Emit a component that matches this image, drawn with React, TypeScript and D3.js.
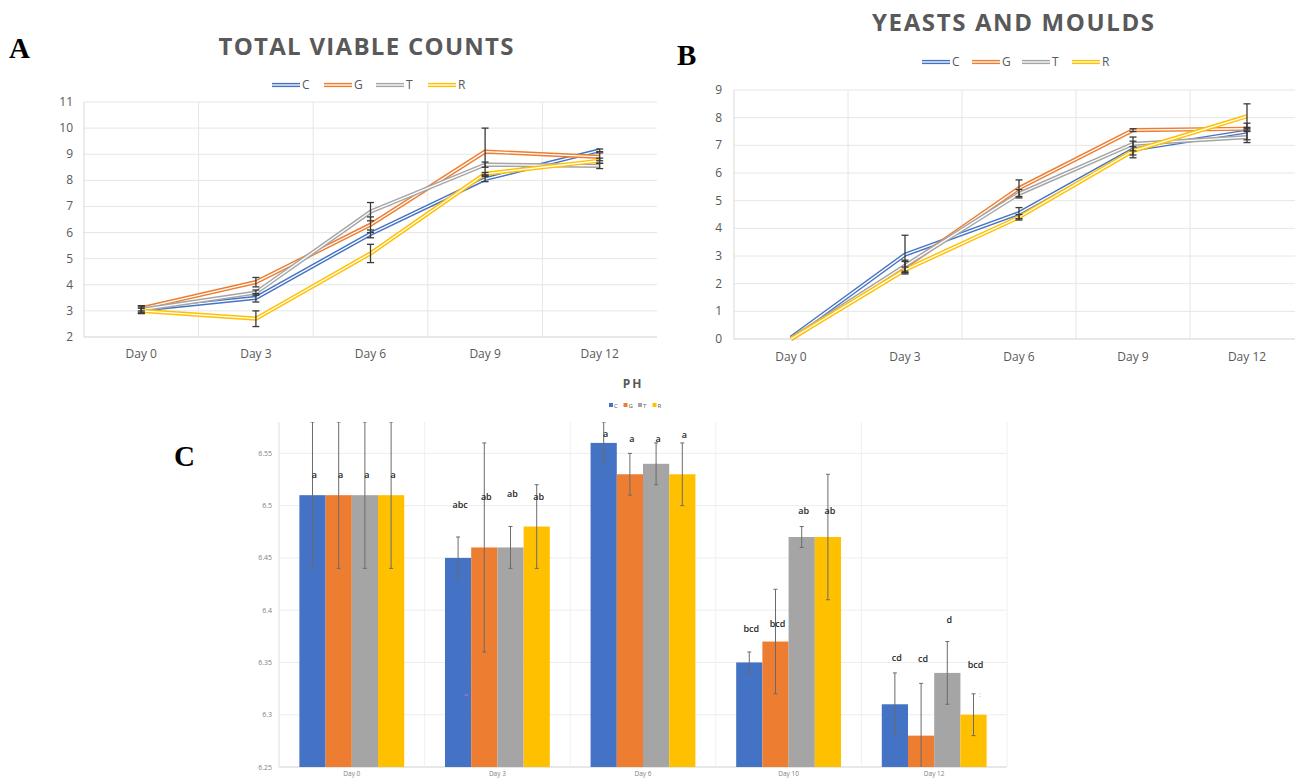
import React from "react";
import * as d3 from "d3";

// ---------- data ----------
const days = ["Day 0", "Day 3", "Day 6", "Day 9", "Day 12"];
const seriesNames = ["C", "G", "T", "R"];

// Total viable counts
const tvcC = [3.05, 3.5, 5.95, 8.05, 9.15];
const tvcG = [3.1, 4.1, 6.3, 9.1, 8.9];
const tvcT = [3.05, 3.7, 6.8, 8.6, 8.55];
const tvcR = [3.0, 2.7, 5.2, 8.25, 8.75];
const tvcErrC = [0.15, 0.16, 0.15, 0.1, 0.05];
const tvcErrG = [0.1, 0.18, 0.3, 0.9, 0.15];
const tvcErrT = [0.1, 0.1, 0.35, 0.1, 0.1];
const tvcErrR = [0.1, 0.3, 0.35, 0.05, 0.1];
const tvcTicks = [2, 3, 4, 5, 6, 7, 8, 9, 10, 11];

// Yeasts and moulds
const ymC = [0.05, 3.05, 4.55, 6.85, 7.5];
const ymG = [0, 2.6, 5.45, 7.55, 7.6];
const ymT = [0, 2.65, 5.25, 7.05, 7.3];
const ymR = [0, 2.5, 4.4, 6.8, 8.05];
const ymErrC = [0, 0.7, 0.2, 0.3, 0.3];
const ymErrG = [0, 0.2, 0.3, 0.05, 0.05];
const ymErrT = [0, 0.2, 0.15, 0.25, 0.2];
const ymErrR = [0, 0.1, 0.1, 0.15, 0.45];
const ymTicks = [0, 1, 2, 3, 4, 5, 6, 7, 8, 9];

// pH
const phDays = ["Day 0", "Day 3", "Day 6", "Day 10", "Day 12"];
const phC = [6.51, 6.45, 6.56, 6.35, 6.31];
const phG = [6.51, 6.46, 6.53, 6.37, 6.28];
const phT = [6.51, 6.46, 6.54, 6.47, 6.34];
const phR = [6.51, 6.48, 6.53, 6.47, 6.3];
const phErrC = [0.07, 0.02, 0.02, 0.01, 0.03];
const phErrG = [0.07, 0.1, 0.02, 0.05, 0.05];
const phErrT = [0.07, 0.02, 0.02, 0.01, 0.03];
const phErrR = [0.07, 0.04, 0.03, 0.06, 0.02];
const phLetC = ["a", "abc", "a", "bcd", "cd"];
const phLetG = ["a", "ab", "a", "bcd", "cd"];
const phLetT = ["a", "ab", "a", "ab", "d"];
const phLetR = ["a", "ab", "a", "ab", "bcd"];
const phLetAtC = [6.529, 6.501, 6.569, 6.382, 6.354];
const phLetAtG = [6.529, 6.508, 6.564, 6.387, 6.353];
const phLetAtT = [6.529, 6.511, 6.564, 6.495, 6.391];
const phLetAtR = [6.529, 6.508, 6.568, 6.495, 6.348];
const phTicks = [6.25, 6.3, 6.35, 6.4, 6.45, 6.5, 6.55];
const phTickLabels = ["6.25", "6.3", "6.35", "6.4", "6.45", "6.5", "6.55"];

// ---------- style ----------
const COLORS = ["#4472C4", "#ED7D31", "#A5A5A5", "#FFC000"];
const FONT = "'Open Sans', 'Liberation Sans', sans-serif";
const TXT = "#595959";
const GRID = "#e6e6e6";

type LineProps = {
  title: string; titleX: number; titleY: number; titleW: number;
  letter: string; letterX: number; letterY: number;
  left: number; right: number; top: number; bottom: number;
  domain: [number, number]; ticks: number[];
  values: number[][]; errors: number[][];
  legendX: number; legendStep: number; legendY: number; yLabelX: number; xLabelY: number;
};

function LinePanel(p: LineProps) {
  const x = d3.scaleBand<string>().domain(days).range([p.left, p.right]);
  const y = d3.scaleLinear().domain(p.domain).range([p.bottom, p.top]);
  const cx = (i: number) => (x(days[i]) as number) + x.bandwidth() / 2;
  const line = d3.line<number>().x((_, i) => cx(i)).y((d) => y(d));
  return (
    <g>
      <text x={p.titleX} y={p.titleY} textAnchor="middle" fontFamily={FONT} fontSize={24} fontWeight={700}
        fill={TXT} textLength={p.titleW} lengthAdjust="spacing">{p.title}</text>
      <text x={p.letterX} y={p.letterY} fontFamily="'Liberation Serif', serif" fontSize={29} fontWeight={700} fill="#000">{p.letter}</text>
      {p.ticks.map((t) => (
        <line key={"h" + t} x1={p.left} x2={p.right} y1={y(t)} y2={y(t)} stroke={t === p.domain[0] ? "#d0d0d0" : GRID} strokeWidth={1} />
      ))}
      {days.map((d, i) => i > 0 ? (
        <line key={"v" + d} x1={x(d)} x2={x(d)} y1={p.top} y2={p.bottom} stroke={GRID} strokeWidth={1} />
      ) : null)}
      <line x1={p.left} x2={p.left} y1={p.top} y2={p.bottom} stroke="#d9d9d9" strokeWidth={1} />
      {p.ticks.map((t) => (
        <text key={"yl" + t} x={p.yLabelX} y={y(t) + 4} textAnchor="end" fontFamily={FONT} fontSize={12} fill={TXT}>{t}</text>
      ))}
      {days.map((d, i) => (
        <text key={"xl" + d} x={cx(i)} y={p.xLabelY} textAnchor="middle" fontFamily={FONT} fontSize={12} fill={TXT}>{d}</text>
      ))}
      {p.values.map((vals, s) => (
        <g key={"s" + s}>
          <path d={line(vals) || ""} fill="none" stroke={COLORS[s]} strokeWidth={4.2} strokeLinejoin="round" />
          <path d={line(vals) || ""} fill="none" stroke="#fff" strokeWidth={1.3} strokeLinejoin="round" />
        </g>
      ))}
      {p.values.map((vals, s) => vals.map((v, i) => {
        const e = p.errors[s][i];
        if (!e) return null;
        const x0 = cx(i);
        return (
          <g key={"e" + s + "-" + i} stroke="#3a3a3a" strokeWidth={1.3}>
            <line x1={x0} x2={x0} y1={y(v + e)} y2={y(v - e)} />
            <line x1={x0 - 3.5} x2={x0 + 3.5} y1={y(v + e)} y2={y(v + e)} />
            <line x1={x0 - 3.5} x2={x0 + 3.5} y1={y(v - e)} y2={y(v - e)} />
          </g>
        );
      }))}
      {seriesNames.map((n, s) => {
        const lx = p.legendX + s * p.legendStep;
        return (
          <g key={"lg" + n}>
            <line x1={lx} x2={lx + 28} y1={p.legendY} y2={p.legendY} stroke={COLORS[s]} strokeWidth={4.2} />
            <line x1={lx} x2={lx + 28} y1={p.legendY} y2={p.legendY} stroke="#fff" strokeWidth={1.3} />
            <text x={lx + 30} y={p.legendY + 4} fontFamily={FONT} fontSize={12} fill={TXT}>{n}</text>
          </g>
        );
      })}
    </g>
  );
}

function PhPanel() {
  const left = 279, right = 1007, top = 422, bottom = 767;
  const x = d3.scaleBand<string>().domain(phDays).range([left, right]);
  const y = d3.scaleLinear().domain([6.25, 6.58]).range([bottom, top]);
  const groupW = x.bandwidth() * 0.72;
  const sub = d3.scaleBand<string>().domain(seriesNames).range([0, groupW]);
  const vals = [phC, phG, phT, phR];
  const errs = [phErrC, phErrG, phErrT, phErrR];
  const lets = [phLetC, phLetG, phLetT, phLetR];
  const letAt = [phLetAtC, phLetAtG, phLetAtT, phLetAtR];
  const bx = (i: number, s: number) =>
    (x(phDays[i]) as number) + (x.bandwidth() - groupW) / 2 + (sub(seriesNames[s]) as number);
  return (
    <g>
      <defs>
        <clipPath id="phclip"><rect x={left} y={top} width={right - left} height={bottom - top} /></clipPath>
      </defs>
      <text x={633} y={388} textAnchor="middle" fontFamily={FONT} fontSize={12} fontWeight={700} fill={TXT} letterSpacing={2}>PH</text>
      {seriesNames.map((n, s) => (
        <g key={"pl" + n}>
          <rect x={609 + s * 14.5} y={403} width={4} height={4} fill={COLORS[s]} />
          <text x={614 + s * 14.5} y={407.5} fontFamily={FONT} fontSize={6} fill={TXT}>{n}</text>
        </g>
      ))}
      <text x={174} y={466} fontFamily="'Liberation Serif', serif" fontSize={29} fontWeight={700} fill="#000">C</text>
      {phTicks.map((t) => (
        <line key={"g" + t} x1={left} x2={right} y1={y(t)} y2={y(t)} stroke={t === 6.25 ? "#d0d0d0" : "#ededed"} />
      ))}
      {phDays.map((d, i) => (
        <line key={"v" + d} x1={x(d)} x2={x(d)} y1={top} y2={bottom} stroke={i === 0 ? "#e0e0e0" : "#f0f0f0"} />
      ))}
      <line x1={right} x2={right} y1={top} y2={bottom} stroke="#f0f0f0" />
      {phTicks.map((t, k) => (
        <text key={"t" + t} x={272} y={y(t) + 2.5} textAnchor="end" fontFamily={FONT} fontSize={7} fill="#7f7f7f">{phTickLabels[k]}</text>
      ))}
      {phDays.map((d) => (
        <text key={"xl" + d} x={(x(d) as number) + x.bandwidth() / 2} y={776} textAnchor="middle" fontFamily={FONT} fontSize={6.5} fill="#7f7f7f">{d}</text>
      ))}
      <g clipPath="url(#phclip)">
        {vals.map((vs, s) => vs.map((v, i) => (
          <rect key={"b" + s + i} x={bx(i, s)} y={y(v)} width={sub.bandwidth()} height={bottom - y(v)} fill={COLORS[s]} />
        )))}
        {vals.map((vs, s) => vs.map((v, i) => {
          const c = bx(i, s) + sub.bandwidth() / 2;
          const e = errs[s][i];
          return (
            <g key={"e" + s + i} stroke="#6b6b6b" strokeWidth={1}>
              <line x1={c} x2={c} y1={y(v + e)} y2={y(v - e)} />
              <line x1={c - 2} x2={c + 2} y1={y(v + e)} y2={y(v + e)} />
              <line x1={c - 2} x2={c + 2} y1={y(v - e)} y2={y(v - e)} />
            </g>
          );
        }))}
      </g>
      {lets.map((ls, s) => ls.map((l, i) => (
        <text key={"l" + s + i} x={bx(i, s) + sub.bandwidth() / 2 + 2} y={y(letAt[s][i]) + 3} textAnchor="middle"
          fontFamily={FONT} fontSize={9} fontWeight={600} fill="#262626">{l}</text>
      )))}
      <text x={466} y={697} textAnchor="middle" fontFamily={FONT} fontSize={7} fill="#d070d0">=</text>
      <text x={980} y={697} textAnchor="middle" fontFamily={FONT} fontSize={7} fill="#40d0e0">:</text>
    </g>
  );
}

export default function App() {
  return (
    <svg width={1295} height={779} style={{ position: "absolute", left: 0, top: 0, background: "#fff" }}>
      <rect x={0} y={0} width={1295} height={779} fill="#fff" />
      <LinePanel title="TOTAL VIABLE COUNTS" titleX={366} titleY={55} titleW={295}
        letter="A" letterX={9} letterY={58}
        left={84} right={657} top={102} bottom={337} domain={[2, 11]} ticks={tvcTicks}
        values={[tvcC, tvcG, tvcT, tvcR]} errors={[tvcErrC, tvcErrG, tvcErrT, tvcErrR]}
        legendX={272} legendStep={52} legendY={85} yLabelX={73} xLabelY={358} />
      <LinePanel title="YEASTS AND MOULDS" titleX={1013} titleY={31} titleW={282}
        letter="B" letterX={677} letterY={65}
        left={734} right={1304} top={90} bottom={339} domain={[0, 9]} ticks={ymTicks}
        values={[ymC, ymG, ymT, ymR]} errors={[ymErrC, ymErrG, ymErrT, ymErrR]}
        legendX={922} legendStep={50} legendY={62} yLabelX={722} xLabelY={361} />
      <PhPanel />
    </svg>
  );
}
